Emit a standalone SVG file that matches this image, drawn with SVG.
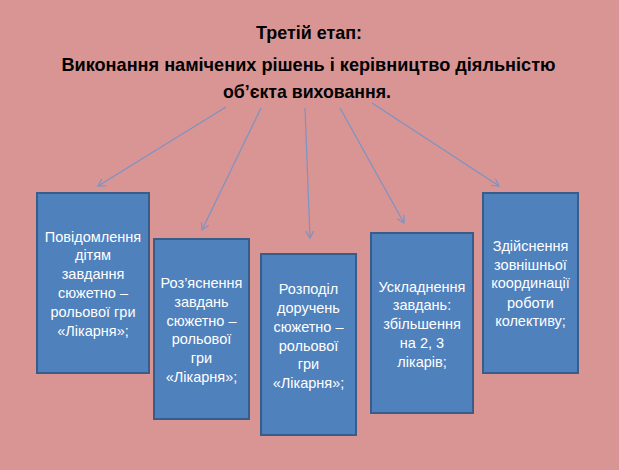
<svg xmlns="http://www.w3.org/2000/svg" width="619" height="470" viewBox="0 0 619 470">
<defs>
<marker id="arr" markerWidth="10" markerHeight="10" refX="8" refY="5" orient="auto" markerUnits="userSpaceOnUse">
<path d="M1,1 L8,5 L1,9" fill="none" stroke="#7B93C6" stroke-width="1.2"/>
</marker>
<style>
.t{font-family:"Liberation Sans",Arial,sans-serif;font-weight:bold;font-size:18.5px;fill:#000;text-anchor:middle}
.b{fill:#4F81BD;stroke:#385D8A;stroke-width:2}
.bt{font-family:"Liberation Sans",Arial,sans-serif;font-size:14.5px;fill:#fff;text-anchor:middle}
.c{stroke:#7B93C6;stroke-width:1.2;fill:none;marker-end:url(#arr)}
</style>
</defs>
<rect width="619" height="470" fill="#D99594"/>
<g id="title">
<text class="t" x="309" y="38.5" textLength="106" lengthAdjust="spacingAndGlyphs">Третій етап:</text>
<text class="t" x="308.5" y="71" textLength="494" lengthAdjust="spacingAndGlyphs">Виконання намічених рішень і керівництво діяльністю</text>
<text class="t" x="307" y="98" textLength="168" lengthAdjust="spacingAndGlyphs">об’єкта виховання.</text>
</g>
<g id="connectors">
<line class="c" x1="226" y1="107" x2="98" y2="186"/>
<line class="c" x1="261" y1="108" x2="202" y2="230"/>
<line class="c" x1="305" y1="108" x2="310" y2="238"/>
<line class="c" x1="340" y1="108" x2="404" y2="223"/>
<line class="c" x1="372" y1="103" x2="499" y2="186"/>
</g>
<g id="box1">
<rect class="b" x="37" y="193" width="112" height="180"/>
<text class="bt" x="93" y="241.5">Повідомлення</text>
<text class="bt" x="93" y="260.3">дітям</text>
<text class="bt" x="93" y="279.1">завдання</text>
<text class="bt" x="93" y="297.9">сюжетно –</text>
<text class="bt" x="93" y="316.7">рольової гри</text>
<text class="bt" x="93" y="335.5">«Лікарня»;</text>
</g>
<g id="box2">
<rect class="b" x="154" y="239" width="95" height="180"/>
<text class="bt" x="201.5" y="288.3">Роз’яснення</text>
<text class="bt" x="201.5" y="307">завдань</text>
<text class="bt" x="201.5" y="325.7">сюжетно –</text>
<text class="bt" x="201.5" y="344">рольової</text>
<text class="bt" x="201.5" y="362.7">гри</text>
<text class="bt" x="201.5" y="381.7">«Лікарня»;</text>
</g>
<g id="box3">
<rect class="b" x="261" y="254" width="95" height="181"/>
<text class="bt" x="308.5" y="294.3">Розподіл</text>
<text class="bt" x="308.5" y="313.3">доручень</text>
<text class="bt" x="308.5" y="331.7">сюжетно –</text>
<text class="bt" x="308.5" y="351">рольової</text>
<text class="bt" x="308.5" y="369.3">гри</text>
<text class="bt" x="308.5" y="388.3">«Лікарня»;</text>
</g>
<g id="box4">
<rect class="b" x="371" y="233" width="102" height="180"/>
<text class="bt" x="422" y="291.7">Ускладнення</text>
<text class="bt" x="422" y="310.3">завдань:</text>
<text class="bt" x="422" y="329.3">збільшення</text>
<text class="bt" x="422" y="348.3">на 2, 3</text>
<text class="bt" x="422" y="367.3">лікарів;</text>
</g>
<g id="box5">
<rect class="b" x="483" y="193" width="95" height="180"/>
<text class="bt" x="530.5" y="251">Здійснення</text>
<text class="bt" x="530.5" y="270.3">зовнішньої</text>
<text class="bt" x="530.5" y="288.3">координації</text>
<text class="bt" x="530.5" y="307.7">роботи</text>
<text class="bt" x="530.5" y="326">колективу;</text>
</g>
</svg>
